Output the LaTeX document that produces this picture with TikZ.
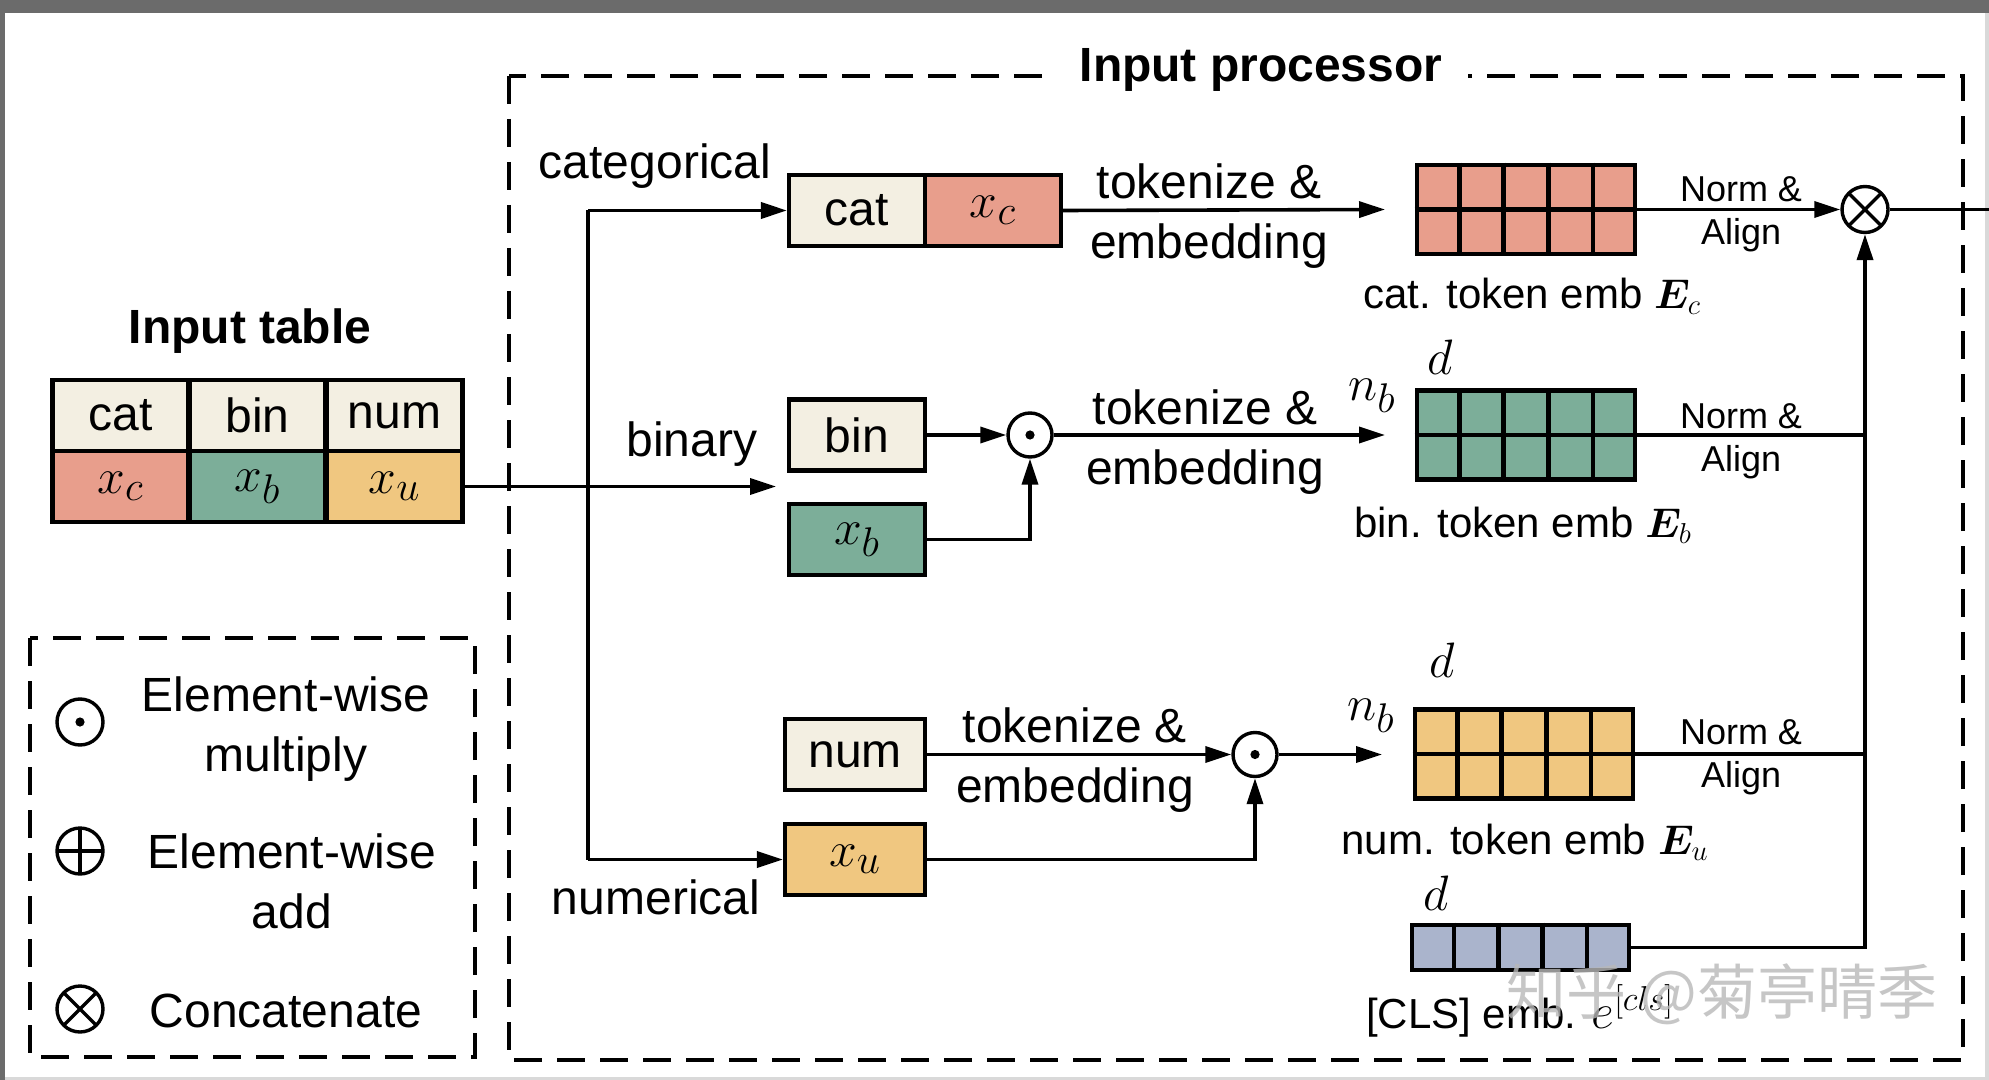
\documentclass[tikz,border=0pt]{standalone}
\usepackage[no-math]{fontspec}
\setmainfont{Liberation Sans}
\newfontfamily\cjkwm{Noto Sans CJK SC}
\usepackage{bm}
\usetikzlibrary{arrows.meta,calc}
\definecolor{cream}{RGB}{243,239,226}
\definecolor{salmon}{RGB}{232,158,140}
\definecolor{sage}{RGB}{124,174,153}
\definecolor{ochre}{RGB}{240,199,128}
\definecolor{slate}{RGB}{170,180,204}
\definecolor{bandgray}{RGB}{107,107,107}
\newcommand\tokgridlines[2]{%
  \foreach \i in {1,2,3,4}{\draw[line width=2.3pt] ($(#1.north west)!\i/5!(#1.north east)$) -- ($(#1.south west)!\i/5!(#1.south east)$);}%
  \ifnum#2=2 \draw[line width=2.3pt] (#1.west) -- (#1.east);\fi}
\begin{document}
\begin{tikzpicture}[x=0.5pt,y=-0.5pt,
  txt/.style={font=\fontsize{24}{30}\selectfont, inner sep=0pt, align=center},
  ttl/.style={font=\bfseries\fontsize{24}{30}\selectfont, inner sep=0pt},
  smalltxt/.style={font=\fontsize{18}{21.5}\selectfont, align=center, inner sep=0pt},
  lbl/.style={font=\fontsize{21}{25}\selectfont, inner sep=0pt},
  mth/.style={font=\fontsize{28}{30}\selectfont, inner sep=0pt},
  mbox/.style={font=\fontsize{30}{32}\selectfont},
  cellbox/.style={draw, line width=2.1pt, inner sep=0pt, minimum width=68pt, minimum height=35.5pt, font=\fontsize{24}{28}\selectfont},
  gridbox/.style={draw, line width=2.3pt, inner sep=0pt, minimum width=109pt, minimum height=44.5pt},
  ln/.style={line width=1.8pt},
  arr/.style={line width=1.8pt, -{Triangle[length=13pt,width=8pt]}},
  dashbox/.style={draw, line width=1.9pt, dash pattern=on 14pt off 7.5pt},
  opdot/.style={circle, draw, line width=1.7pt, minimum size=22pt, inner sep=0pt, fill=white,
    path picture={\fill[black] (path picture bounding box.center) circle (2.3pt);}},
  optimes/.style={circle, draw, line width=1.7pt, minimum size=23pt, inner sep=0pt, fill=white,
    path picture={\draw[black, line width=1.7pt] (path picture bounding box.north west) -- (path picture bounding box.south east) (path picture bounding box.north east) -- (path picture bounding box.south west);}},
  opplus/.style={circle, draw, line width=1.7pt, minimum size=23pt, inner sep=0pt, fill=white,
    path picture={\draw[black, line width=1.7pt] (path picture bounding box.north) -- (path picture bounding box.south) (path picture bounding box.east) -- (path picture bounding box.west);}}
]
% page and frame
\fill[white] (0,0) rectangle (1989,1080);
\useasboundingbox (0,0) rectangle (1989,1080);
\fill[bandgray] (0,0) rectangle (1989,13);
\fill[bandgray] (0,0) rectangle (5,1080);
\fill[black!15] (1985,13) rectangle (1989,1080);
\fill[black!15] (5,1077) rectangle (1989,1080);

% dashed boxes
\draw[dashbox] (509,76) rectangle (1963,1060);
\draw[dashbox] (30,638) rectangle (475,1057);
\node[ttl, fill=white, inner xsep=13pt, inner ysep=4pt] (ptitle) at (1261,70) {Input processor};

% input table
\node[ttl] (ttitle) at (250,331) {Input table};
\node[cellbox, fill=cream] (tcat) at (120.5,415.5) {cat};
\node[cellbox, fill=cream] (tbin) at (257.5,415.5) {bin};
\node[cellbox, fill=cream] (tnum) at (394.5,415.5) {num};
\node[cellbox, fill=salmon, mbox] (txc) at (120.5,486.5) {$x_c$};
\node[cellbox, fill=sage, mbox] (txb) at (257.5,486.5) {$x_b$};
\node[cellbox, fill=ochre, mbox] (txu) at (394.5,486.5) {$x_u$};

% branch labels
\node[txt] (lcat) at (655,166) {categorical};
\node[txt] (lbin) at (692,444) {binary};
\node[txt] (lnum) at (656,897) {numerical};

% processor boxes
\node[cellbox, fill=cream] (catl) at (857,210.5) {cat};
\node[cellbox, fill=salmon, mbox] (catr) at (993,210.5) {$x_c$};
\node[cellbox, fill=cream] (binb) at (857,435) {bin};
\node[cellbox, fill=sage, mbox] (xbb) at (857,539.5) {$x_b$};
\node[cellbox, fill=cream, minimum width=70pt] (numb) at (855,754.5) {num};
\node[cellbox, fill=ochre, minimum width=70pt, mbox] (xub) at (855,859.5) {$x_u$};

% operators
\node[opdot] (odA) at (1030,435) {};
\node[opdot] (odB) at (1255,754.5) {};
\node[optimes] (otim) at (1865,209.5) {};

% token embedding grids
\node[gridbox, fill=salmon] (catg) at (1526,209.5) {};
\tokgridlines{catg}{2}
\node[gridbox, fill=sage] (bing) at (1526,435) {};
\tokgridlines{bing}{2}
\node[gridbox, fill=ochre] (numg) at (1524,754) {};
\tokgridlines{numg}{2}
\node[gridbox, fill=slate, minimum width=108.5pt, minimum height=22.5pt] (clsg) at (1520.5,947.5) {};
\tokgridlines{clsg}{1}

% coordinates for free ends
\coordinate (splitA) at (588,210.5);
\coordinate (splitB) at (588,859.5);
\coordinate (tabend) at (776,486.5);
\coordinate (catend) at (1385,209.5);
\coordinate (binend) at (1385,435);
\coordinate (numend) at (1382,754.5);
\coordinate (outend) at (1989,209.5);

% connectors
\draw[arr] (txu.east) -- (tabend);
\draw[ln] (splitA) -- (splitB);
\draw[arr] (splitA) -- (catl.west);
\draw[arr] (splitB) -- (xub.west);
\draw[arr] (catr.east) -- (catend);
\draw[arr] (binb.east) -- (odA.west);
\draw[arr] (xbb.east) -| (odA.south);
\draw[arr] (odA.east) -- (binend);
\draw[arr] (numb.east) -- (odB.west);
\draw[arr] (xub.east) -| (odB.south);
\draw[arr] (odB.east) -- (numend);
\draw[arr] (catg.east) -- (otim.west);
\draw[ln] (bing.east) -- (bing.east -| otim.center);
\draw[ln] (numg.east) -- (numg.east -| otim.center);
\draw[arr] (clsg.east) -| (otim.south);
\draw[ln] (otim.east) -- (outend);

% arrow labels
\node[txt] (tkA) at (1209,216) {tokenize \&\\embedding};
\node[txt] (tkB) at (1205,442) {tokenize \&\\embedding};
\node[txt] (tkC) at (1075,760) {tokenize \&\\embedding};
\node[smalltxt] (naA) at (1741,214) {Norm \&\\Align};
\node[smalltxt] (naB) at (1741,441) {Norm \&\\Align};
\node[smalltxt] (naC) at (1741,757) {Norm \&\\Align};

% dimension labels
\node[mth] (nbB) at (1372,396) {$n_b$};
\node[mth] (nbC) at (1371,716) {$n_b$};
\node[mth] (dB) at (1440,357) {$d$};
\node[mth] (dC) at (1442,660) {$d$};
\node[mth] (dD) at (1436,893) {$d$};

% grid captions
\node[lbl] (capA) at (1532,296) {cat. token emb $\bm{E}_c$};
\node[lbl] (capB) at (1523,525) {bin. token emb $\bm{E}_b$};
\node[lbl] (capC) at (1525,842) {num. token emb $\bm{E}_u$};
\node[lbl] (capD) at (1520,1011) {[CLS] emb. {\fontsize{25}{28}\selectfont$e^{[cls]}$}};

% watermark
\node[font=\cjkwm\fontsize{30}{34}\selectfont, text=black!28, opacity=0.8, inner sep=0pt] (wm) at (1722,994) {知乎 @菊亭晴季};

% legend
\node[opdot, minimum size=23pt] (lgA) at (80,722) {};
\node[opplus] (lgB) at (80,851) {};
\node[optimes] (lgC) at (80,1009) {};
\node[txt] (lgtA) at (286,729) {Element-wise\\multiply};
\node[txt] (lgtB) at (292,881) {Element-wise\\add};
\node[txt] (lgtC) at (286,1011) {Concatenate};
\end{tikzpicture}
\end{document}
